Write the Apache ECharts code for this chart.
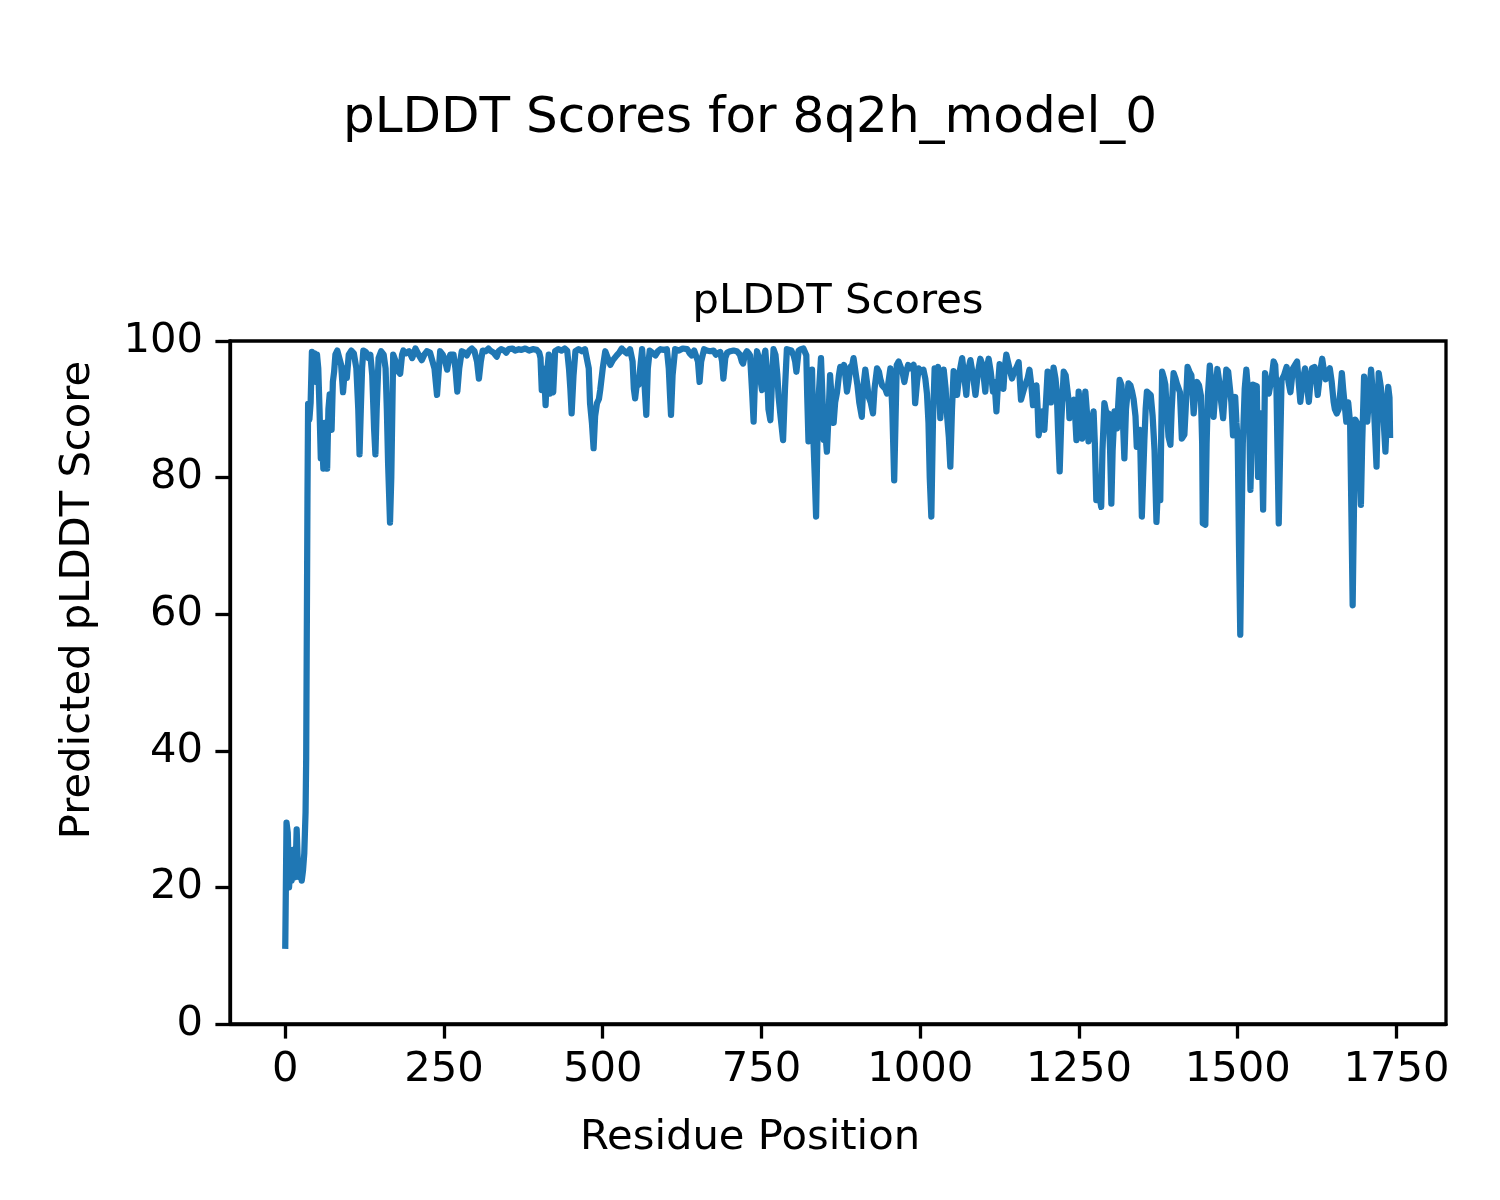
<!DOCTYPE html>
<html>
<head>
<meta charset="utf-8">
<script src="https://cdn.jsdelivr.net/npm/echarts@6.0.0/dist/echarts.min.js"></script>
<style>
html,body{margin:0;padding:0;background:#fff;}
#chart{width:1500px;height:1200px;}
</style>
</head>
<body>
<div id="chart"></div>
<script>
// Residue positions and predicted pLDDT scores
const residue = [
0,2,4,6,8,10,12,14,16,18,20,22,24,26,28,30,32,33,35,36,38,40,42,44,46,48,50,52,54,56,58,60,62,64,66,68,70,72,73,75,77,79,82,85,88,91,94,97,100,104,108,112,115,117,119,121,123,127,131,134,137,140,142,144,147,151,155,158,160,162,165,167,170,174,178,181,184,186,190,195,200,205,210,215,219,223,228,231,235,239,242,244,248,252,255,258,260,265,268,271,274,278,282,286,290,294,298,302,305,308,311,316,320,323,328,333,336,340,345,348,352,358,362,368,372,378,384,390,396,400,402,404,406,408,410,412,415,417,420,422,425,430,435,440,444,447,449,451,454,457,462,467,472,475,478,480,483,485.6,488,491,494,496,500,504,508,512,516,522,526,530,534,538,543,547,549,551,554,556.5,559,562,565,568.6,571,574,578,583,587,591,596,601,604,606,607.5,610,614,620,626,633,637,640,644,647,650,652.5,655,659.6,664,669,674.6,678,680,685,688,690,693,696,701,706,711,716,719,721,724,727,730,732,735,737.6,740,743,746,749,750.8,753,756,759,761,764,767,769,772,775,777,780,784,787,790,793,797,800.6,803,805,808.5,812,816,820.6,822,824,826,829.6,832,834,836,838,840,843.7,846,848,851,853,856,858,861,863.6,866,869,872,874,877,880,882,884.6,887,890,893,895,898,901,904,908,910,913.5,916,918.8,922,925.6,928,932,935,937,940,942,945,947.6,950,953,956,959,961,963,966,969,972,975,978,981,985,989.6,992,995,997.6,1001,1005,1008,1010.6,1013,1015,1017.5,1020,1022.7,1025,1028,1030,1031.6,1034,1037,1040,1042,1045,1047.4,1050,1052.6,1055,1058,1062,1066,1069,1072.6,1075,1079,1083,1087,1091,1094.6,1098,1102.5,1105,1107.7,1111,1114.6,1117,1120,1122,1125,1128,1131,1133,1135.6,1138,1141,1144.5,1148,1151,1155,1157,1158.7,1162,1165.5,1169,1172,1175,1177.6,1180,1183,1185,1186.5,1189,1192,1195.5,1198,1200.6,1203,1206,1208,1210,1213,1215,1217,1219.6,1222,1226,1229,1232,1234,1235,1238,1242,1244,1246,1248,1249.5,1252,1255,1257,1260,1263,1265,1268,1271,1273,1275,1277.3,1280,1282,1285,1287,1290,1293,1296.7,1299,1301,1303,1306,1308,1310,1312,1314,1317,1319,1321.5,1324,1328,1331,1333.6,1336,1339,1341,1344,1346,1349,1351,1353,1355,1357,1360,1363,1366,1369,1372,1375,1378,1381,1384,1386,1387.6,1391,1394,1396,1399,1402,1404,1406,1409,1412,1416,1418,1421,1424,1427,1429,1430.6,1433,1436,1439,1442,1444,1445,1449,1451,1453,1456,1459,1462,1465,1468,1471,1474,1477,1480,1482,1485,1488,1490,1492.6,1494,1496,1498,1500,1502,1504,1506,1508,1511,1513.6,1516,1518,1520,1522,1524,1527,1530,1532,1534,1536,1538,1540,1542,1543,1546,1549,1552,1554,1556.6,1559,1561,1563,1564.6,1567,1569,1573,1577,1580,1583,1587,1590,1593.4,1596,1598.6,1602,1606,1609,1612,1615,1617,1621,1624,1626,1630,1633,1636,1638.6,1642,1645,1648,1651,1653,1656,1659,1662,1664,1666,1668,1671,1674,1677,1679,1681,1683,1685,1688,1691,1694,1696,1699,1702,1704,1707,1710,1713,1715,1718.6,1720,1722,1725,1727,1730,1732.6,1735,1737,1739,1740
];
const plddt = [
11,29.5,28,20,23,21,25.5,22,21.5,28.5,23,21.5,22.5,21,22.5,25,31,39,77,90.8,88.5,91,98.4,96,98.2,94,98,96,90,82.8,86,81.3,88,85,81.3,90,92.2,88,87,94,95.5,98,98.6,98.4,96.5,92.5,96,94.6,98,98.6,98.2,96,90,83.4,90,96,98.6,98.4,97.5,98,95,87,83.4,90,97.5,98.5,98,96,90,82,73.4,80,98,97,95.5,95.2,98,98.6,98.2,98.5,97.5,98.9,98,97.2,98,98.5,98.3,98.5,96,92.1,96,98.5,98,97,95.8,97.5,98,98,96,92.6,96,98.5,98.3,97.9,98.6,98.9,98.5,97,94.5,97,98.6,98.5,98.9,98.6,98.3,97.7,98.5,98.8,98.6,98.3,98.8,98.9,98.6,98.8,98.7,98.9,98.6,98.8,98.7,98.3,97.5,92.8,96,95,90.6,95,98,92.3,93,92.5,98.5,98.8,98.6,98.9,98.6,95.8,93,89.4,95,98.5,98.8,98.5,98.8,98.7,96,90.9,88,84.3,89,90.9,91.5,92.8,96,98.5,97.5,96.5,97.2,97.9,98.3,98.9,98.5,98.2,98.8,97,93,91.6,94,93.6,96,98.8,95,89.2,96,98.6,98.3,97.9,98.5,98.8,98.7,98.8,96,92,89.2,95,98.8,98.6,98.9,98.8,98.2,97.9,98.6,98.8,97,94,97,98.8,98.6,98.5,98.6,98,97.9,98.4,97,94.5,97.5,98.3,98.5,98.6,98.5,98,97,96.7,98,98.5,98.2,97.9,93,88.2,95,98.5,97.5,94,92.8,97,98.6,95,90,88.4,95,98.8,98,95,91.8,89,85.5,93,98.8,99,98.6,97.9,97,95.5,98.6,98.8,98.9,97.9,92,85.3,90,95.8,85,80,74.3,85,91.8,97.5,92,85.5,86,83.8,90,95,91,88,91,92.5,95,96.2,95.5,96.5,95,92.6,94,96.2,96.5,97.5,95.5,93.6,91,88.9,93,95.8,94,91.8,91,89.4,93,96,95.5,94.5,93.5,93.3,93,92.3,94,96,90,79.6,88,96.5,97,97,95.5,94,95.5,96.5,96,96.5,90.9,94,96,95.5,95.8,94.5,92.3,88,80,74.3,88,96,95.5,96.2,93,88.7,93,95.8,93,89.4,86,81.6,90,95.6,94,92.1,95.5,97.5,95,92.1,95.5,97.2,95,92.1,95.5,97.4,96.5,92.6,96,97.4,95.5,92.6,94,89.7,93,96.6,95.5,93,96,98,97,95.8,94.5,95.5,96,96.9,94,91.4,92.5,93.6,94.5,95.8,93.5,90.6,92,93.5,90,86.2,88,89.7,87,91,95.5,93,91,94,96.1,94.5,92.6,87,80.9,88,95.5,95,94.8,91,88.7,91,91.4,89,85.5,89,92.6,90,85.7,89,92.6,89,85.3,87.5,88.5,89.7,85,76.7,80,77.5,75.7,84,90.9,89.5,89.4,84,76.2,84,89.7,88,87.2,91,94.3,93.5,93.6,82.8,90,93.8,93.5,92.6,91.5,89,84.5,86,87,74.3,80,85.5,90,92.6,92.5,92.1,89,84,73.5,80,76.7,95.5,94.5,93.6,90.9,86,84.8,90,95.3,94.5,93.8,94,92.5,85.7,86.3,90,96.2,95.5,95,92,89.4,92,94,93.5,92,85,73.3,73.1,85,92,96.4,93,88.9,93,95.9,94,91,88.7,93,95.8,95.5,95.3,91,86.2,89,91.8,88,85.5,70,57,72,85,93,95.8,93,88.9,78.2,85,93.6,93.5,93.4,80.1,86,89.4,84,75.3,88,95.3,93.5,92.3,92.5,95,97,96.5,93,82,73.3,85,94.3,95,96.2,94,92.5,96,96.2,97,94,91.1,94,96,93.5,91.1,94.5,96,96.2,94,92.1,95.5,97.4,95.5,94.4,95.5,96,94,91.1,90,89.4,90,93,95.3,93,91.1,88.2,91,88,75,61.3,75,88.5,88,85,76,85,94.8,91,88.2,92,95.8,92,89.4,81.6,88,95.3,93.5,92,88,83.8,89,93.3,91.7,85.8
];
const xTicks = [0, 250, 500, 750, 1000, 1250, 1500, 1750];
const yTicks = [0, 20, 40, 60, 80, 100];

const points = residue.map((r, i) => [r, plddt[i]]);

const chart = echarts.init(document.getElementById('chart'), null, {renderer: 'canvas'});
const FONT = 'DejaVu Sans';
chart.setOption({
  animation: false,
  backgroundColor: '#ffffff',
  textStyle: {fontFamily: FONT},
  grid: {
    left: 230, top: 341, width: 1216, height: 683,
    show: true, borderColor: '#000', borderWidth: 3.3, backgroundColor: 'transparent'
  },
  xAxis: {
    type: 'value', min: -87, max: 1828,
    axisLine: {show: true, onZero: false, lineStyle: {color: '#000', width: 3.3}},
    axisTick: {show: true, length: 14.6, lineStyle: {color: '#000', width: 3.3}, customValues: xTicks},
    axisLabel: {show: true, color: '#000', fontSize: 41.7, fontFamily: FONT, margin: 25, customValues: xTicks,
      formatter: v => String(v)},
    splitLine: {show: false}
  },
  yAxis: {
    type: 'value', min: 0, max: 100, interval: 20,
    axisLine: {show: true, onZero: false, lineStyle: {color: '#000', width: 3.3}},
    axisTick: {show: true, length: 14.6, lineStyle: {color: '#000', width: 3.3}, customValues: yTicks},
    axisLabel: {show: true, color: '#000', fontSize: 41.7, fontFamily: FONT, margin: 27, customValues: yTicks,
      formatter: v => String(v)},
    splitLine: {show: false}
  },
  graphic: [
    {type: 'text', left: 'center', top: 94, style: {text: 'pLDDT Scores for 8q2h_model_0', fontSize: 50, fontFamily: FONT, fill: '#000'}},
    {type: 'text', x: 838, y: 302, style: {text: 'pLDDT Scores', fontSize: 41.7, fontFamily: FONT, fill: '#000', align: 'center', verticalAlign: 'middle'}},
    {type: 'text', x: 750, y: 1138, style: {text: 'Residue Position', fontSize: 41.7, fontFamily: FONT, fill: '#000', align: 'center', verticalAlign: 'middle'}},
    {type: 'text', x: 78, y: 600, rotation: Math.PI / 2, style: {text: 'Predicted pLDDT Score', fontSize: 41.7, fontFamily: FONT, fill: '#000', align: 'center', verticalAlign: 'middle'}}
  ],
  series: [{
    type: 'line',
    data: points,
    showSymbol: false,
    symbol: 'none',
    clip: true,
    lineStyle: {color: '#1f77b4', width: 6.25, join: 'round', cap: 'butt'}
  }]
});
</script>
</body>
</html>
